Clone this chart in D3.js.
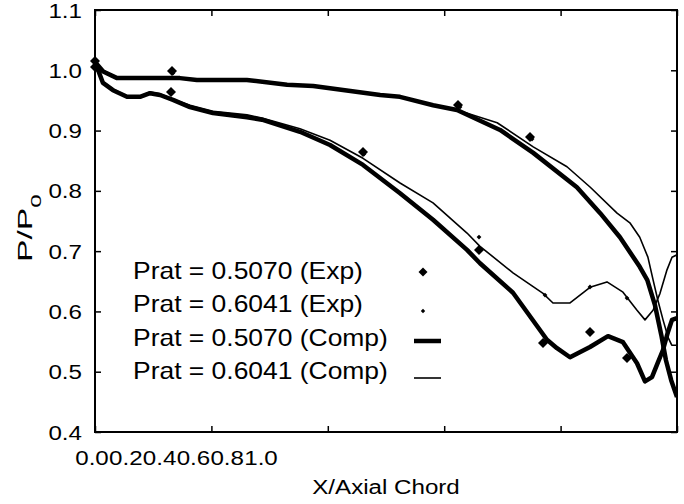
<!DOCTYPE html>
<meta charset="utf-8" />
<style>
  body { margin: 0; background: #fff; }
  svg text { font-family: "Liberation Sans", Arial, sans-serif; fill: #000; }
  .frame { fill: none; stroke: #000; stroke-width: 2px; }
  .tick line { stroke: #000; stroke-width: 1.5px; }
</style>
<svg width="684" height="504"></svg>
<script src="https://d3js.org/d3.v7.min.js"></script>
<script>
  // pressure side (upper) and suction side (lower) computed curves
  var compUpperThickX = [0, 0.014, 0.038, 0.146, 0.175, 0.261, 0.330, 0.375, 0.490, 0.524, 0.581, 0.622, 0.696, 0.753, 0.828, 0.868, 0.902, 0.936, 0.949, 0.962, 0.973, 0.981, 0.990, 1.0];
  var compUpperThickY = [1.014, 0.998, 0.987, 0.987, 0.984, 0.984, 0.976, 0.974, 0.959, 0.956, 0.942, 0.934, 0.901, 0.863, 0.806, 0.763, 0.723, 0.674, 0.652, 0.611, 0.561, 0.519, 0.486, 0.458];

  var compUpperThinX = [0, 0.014, 0.038, 0.146, 0.175, 0.261, 0.330, 0.375, 0.490, 0.524, 0.581, 0.622, 0.691, 0.753, 0.811, 0.851, 0.897, 0.919, 0.936, 0.950, 0.959, 0.967, 0.976, 0.985, 0.991, 1.0];
  var compUpperThinY = [1.014, 1.000, 0.987, 0.987, 0.984, 0.984, 0.976, 0.974, 0.959, 0.956, 0.942, 0.934, 0.913, 0.873, 0.840, 0.806, 0.763, 0.747, 0.723, 0.690, 0.652, 0.619, 0.586, 0.556, 0.544, 0.544];

  var compLowerThickX = [0, 0.0137, 0.0309, 0.055, 0.0773, 0.0945, 0.1117, 0.134, 0.1632, 0.2027, 0.2612, 0.2869, 0.3522, 0.4038, 0.4605, 0.5241, 0.5808, 0.6392, 0.6615, 0.7182, 0.7766, 0.7938, 0.8162, 0.8505, 0.8814, 0.9072, 0.9313, 0.945, 0.957, 0.9674, 0.9759, 0.9845, 0.9914, 1.0];
  var compLowerThickY = [1.014, 0.979, 0.967, 0.956, 0.956, 0.962, 0.959, 0.951, 0.939, 0.929, 0.922, 0.918, 0.898, 0.876, 0.843, 0.796, 0.752, 0.702, 0.680, 0.631, 0.553, 0.539, 0.524, 0.541, 0.559, 0.549, 0.514, 0.484, 0.491, 0.516, 0.536, 0.566, 0.586, 0.589];

  var compLowerThinX = [0, 0.0137, 0.0309, 0.055, 0.0773, 0.0945, 0.1117, 0.134, 0.1632, 0.2027, 0.2612, 0.2869, 0.3522, 0.4038, 0.4605, 0.5241, 0.5808, 0.6392, 0.6615, 0.7182, 0.7698, 0.7869, 0.8162, 0.8505, 0.8797, 0.9072, 0.9313, 0.945, 0.9588, 0.9708, 0.9828, 0.9914, 1.0];
  var compLowerThinY = [1.014, 0.981, 0.969, 0.957, 0.957, 0.964, 0.961, 0.952, 0.942, 0.932, 0.926, 0.921, 0.903, 0.884, 0.854, 0.813, 0.780, 0.730, 0.708, 0.664, 0.630, 0.614, 0.614, 0.640, 0.649, 0.632, 0.602, 0.586, 0.602, 0.630, 0.669, 0.690, 0.694];

  // experimental points
  var exp5070X = [0, 0, 0.1323, 0.1306, 0.4605, 0.6237, 0.7474, 0.6598, 0.7698, 0.8505, 0.9141];
  var exp5070Y = [1.0154, 1.0054, 0.9988, 0.964, 0.8644, 0.9424, 0.8893, 0.7018, 0.5476, 0.5658, 0.5227];
  var exp6041X = [0, 0.134, 0.4622, 0.6271, 0.7509, 0.6598, 0.7732, 0.8505, 0.9141];
  var exp6041Y = [1.010, 0.9955, 0.8611, 0.939, 0.886, 0.7234, 0.6272, 0.6405, 0.6222];

  var xTicks = [0, 0.2, 0.4, 0.6, 0.8, 1.0];
  var yTicks = [0.4, 0.5, 0.6, 0.7, 0.8, 0.9, 1.0, 1.1];
  var legendLabels = ["Prat = 0.5070 (Exp)", "Prat = 0.6041 (Exp)", "Prat = 0.5070 (Comp)", "Prat = 0.6041 (Comp)"];

  var svg = d3.select("svg");
  var mLeft = 95, mRight = 677, mTop = 10, mBottom = 432;
  var fs = 21, sx = 1.15;

  var x = d3.scaleLinear().domain([0, 1]).range([mLeft, mRight]);
  var y = d3.scaleLinear().domain([0.4, 1.1]).range([mBottom, mTop]);
  // tick labels came out squeezed together at the left in the original
  var xLab = d3.scaleLinear().domain([0, 1]).range([92, 261]);

  function label(px, py, txt, anchor, size) {
    return svg.append("text")
      .attr("transform", "translate(" + px + "," + py + ") scale(" + sx + ",1)")
      .attr("text-anchor", anchor || "start")
      .style("font-size", (size || fs) + "px")
      .text(txt);
  }

  function zip(xs, ys) {
    return xs.map(function (d, i) { return [d, ys[i]]; });
  }

  svg.append("clipPath").attr("id", "clip")
    .append("rect").attr("x", mLeft).attr("y", mTop).attr("width", mRight - mLeft).attr("height", mBottom - mTop);

  // ticks, inward on all four sides
  var tl = 6;
  svg.append("g").attr("transform", "translate(0," + mBottom + ")")
    .call(d3.axisTop(x).tickValues(xTicks).tickSize(tl).tickFormat(""))
    .call(function (g) { g.select(".domain").remove(); });
  svg.append("g").attr("transform", "translate(0," + mTop + ")")
    .call(d3.axisBottom(x).tickValues(xTicks).tickSize(tl).tickFormat(""))
    .call(function (g) { g.select(".domain").remove(); });
  svg.append("g").attr("transform", "translate(" + mLeft + ",0)")
    .call(d3.axisRight(y).tickValues(yTicks).tickSize(tl).tickFormat(""))
    .call(function (g) { g.select(".domain").remove(); });
  svg.append("g").attr("transform", "translate(" + mRight + ",0)")
    .call(d3.axisLeft(y).tickValues(yTicks).tickSize(tl).tickFormat(""))
    .call(function (g) { g.select(".domain").remove(); });

  yTicks.forEach(function (t) { label(82, y(t) + 7.5, t.toFixed(1), "end"); });
  xTicks.forEach(function (t) { label(xLab(t), 465, t.toFixed(1), "middle"); });

  label((mLeft + mRight) / 2, 494, "X/Axial Chord", "middle");
  var yt = svg.append("text")
    .attr("transform", "translate(32,262) rotate(-90) scale(1.6,1)")
    .attr("text-anchor", "start")
    .style("font-size", fs + "px");
  yt.append("tspan").text("P/P");
  yt.append("tspan").attr("dy", 9).style("font-size", "15px").text("0");

  var line = d3.line().x(function (d) { return x(d[0]); }).y(function (d) { return y(d[1]); });
  var plot = svg.append("g").attr("clip-path", "url(#clip)");

  [[compUpperThickX, compUpperThickY, 4.5], [compLowerThickX, compLowerThickY, 4.5],
   [compUpperThinX, compUpperThinY, 1.6], [compLowerThinX, compLowerThinY, 1.6]].forEach(function (c) {
    plot.append("path")
      .datum(zip(c[0], c[1]))
      .attr("d", line)
      .attr("fill", "none")
      .attr("stroke", "#000")
      .attr("stroke-width", c[2])
      .attr("stroke-linejoin", "round");
  });

  function diamond(r) {
    return "M0," + (-r) + "L" + r + ",0L0," + r + "L" + (-r) + ",0Z";
  }

  svg.append("g").selectAll("path")
    .data(zip(exp5070X, exp5070Y))
    .join("path")
    .attr("transform", function (d) { return "translate(" + x(d[0]) + "," + y(d[1]) + ")"; })
    .attr("d", diamond(5));

  svg.append("g").selectAll("path")
    .data(zip(exp6041X, exp6041Y))
    .join("path")
    .attr("transform", function (d) { return "translate(" + x(d[0]) + "," + y(d[1]) + ")"; })
    .attr("d", diamond(2.4));

  // legend
  var rows = [279, 312, 346, 379];
  legendLabels.forEach(function (t, i) { label(133, rows[i], t, "start", 23); });
  svg.append("path").attr("transform", "translate(423,272)").attr("d", diamond(4.5));
  svg.append("path").attr("transform", "translate(423,311)").attr("d", diamond(2.2));
  svg.append("line").attr("x1", 414).attr("x2", 441).attr("y1", 341).attr("y2", 341)
    .attr("stroke", "#000").attr("stroke-width", 4.5);
  svg.append("line").attr("x1", 414).attr("x2", 441).attr("y1", 378).attr("y2", 378)
    .attr("stroke", "#000").attr("stroke-width", 1.6);

  svg.append("rect").attr("class", "frame")
    .attr("x", mLeft).attr("y", mTop).attr("width", mRight - mLeft).attr("height", mBottom - mTop);
</script>
